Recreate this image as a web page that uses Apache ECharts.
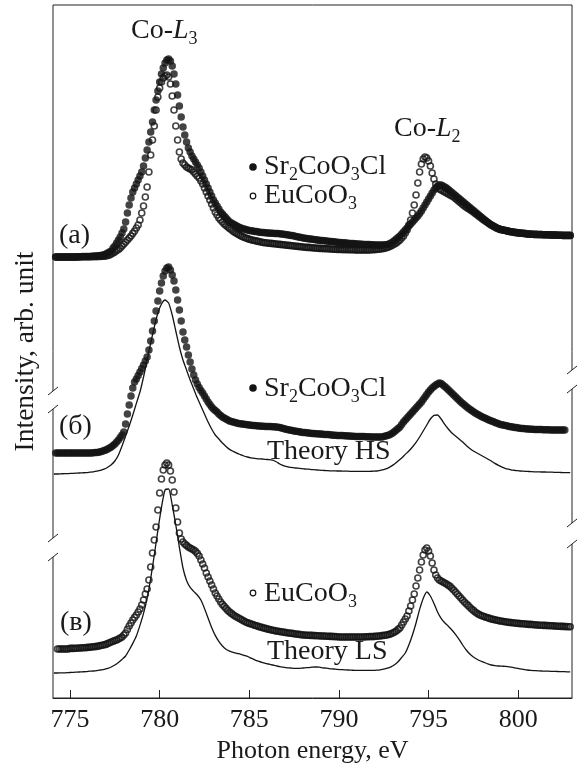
<!DOCTYPE html>
<html>
<head>
<meta charset="utf-8">
<script src="https://cdn.jsdelivr.net/npm/echarts@6/dist/echarts.min.js"></script>
<style>
html,body{margin:0;padding:0;background:#fff}
#chart{width:578px;height:766px}
</style>
</head>
<body>
<div id="chart"></div>
<script>
// Photon energies (eV) of the measured XAS points
const energyExp = [
774.2,774.3,774.4,774.5,774.6,774.7,774.8,774.9,
775.0,775.1,775.2,775.3,775.4,775.5,775.6,775.7,775.8,775.9,
776.0,776.1,776.2,776.3,776.4,776.5,776.6,776.7,776.8,776.9,
777.0,777.1,777.2,777.3,777.4,777.5,777.6,777.7,777.8,777.9,
778.0,778.1,778.2,778.3,778.4,778.5,778.6,778.7,778.8,778.9,
779.0,779.1,779.2,779.3,779.4,779.5,779.6,779.7,779.8,779.9,
780.0,780.1,780.2,780.3,780.4,780.5,780.6,780.7,780.8,780.9,
781.0,781.1,781.2,781.3,781.4,781.5,781.6,781.7,781.8,781.9,
782.0,782.1,782.2,782.3,782.4,782.5,782.6,782.7,782.8,782.9,
783.0,783.1,783.2,783.3,783.4,783.5,783.6,783.7,783.8,783.9,
784.0,784.1,784.2,784.3,784.4,784.5,784.6,784.7,784.8,784.9,
785.0,785.1,785.2,785.3,785.4,785.5,785.6,785.7,785.8,785.9,
786.0,786.1,786.2,786.3,786.4,786.5,786.6,786.7,786.8,786.9,
787.0,787.1,787.2,787.3,787.4,787.5,787.6,787.7,787.8,787.9,
788.0,788.1,788.2,788.3,788.4,788.5,788.6,788.7,788.8,788.9,
789.0,789.1,789.2,789.3,789.4,789.5,789.6,789.7,789.8,789.9,
790.0,790.1,790.2,790.3,790.4,790.5,790.6,790.7,790.8,790.9,
791.0,791.1,791.2,791.3,791.4,791.5,791.6,791.7,791.8,791.9,
792.0,792.1,792.2,792.3,792.4,792.5,792.6,792.7,792.8,792.9,
793.0,793.1,793.2,793.3,793.4,793.5,793.6,793.7,793.8,793.9,
794.0,794.1,794.2,794.3,794.4,794.5,794.6,794.7,794.8,794.9,
795.0,795.1,795.2,795.3,795.4,795.5,795.6,795.7,795.8,795.9,
796.0,796.1,796.2,796.3,796.4,796.5,796.6,796.7,796.8,796.9,
797.0,797.1,797.2,797.3,797.4,797.5,797.6,797.7,797.8,797.9,
798.0,798.1,798.2,798.3,798.4,798.5,798.6,798.7,798.8,798.9,
799.0,799.1,799.2,799.3,799.4,799.5,799.6,799.7,799.8,799.9,
800.0,800.1,800.2,800.3,800.4,800.5,800.6,800.7,800.8,800.9,
801.0,801.1,801.2,801.3,801.4,801.5,801.6,801.7,801.8,801.9,
802.0,802.1,802.2,802.3,802.4,802.5,802.6,802.7,802.8,802.9
];

// Panel (a): Sr2CoO3Cl, intensity (arb. units)
const srCoA = [
1.5,1.5,1.5,1.5,1.5,1.5,1.5,1.5,
1.5,1.5,1.5,1.5,1.5,1.6,1.6,1.7,1.7,1.7,
1.8,1.8,1.9,1.9,2.0,2.0,2.1,2.3,2.4,2.6,
3,3.5,4,4.5,6,7,8.5,10,11.5,13.5,
15.5,19,23.5,27.5,31,34,36,38,40,42,
44,47,51,55,59,64,69,75,80,84.5,
89,93,96,98.5,100,100.5,99.5,97,93,88,
82.5,77,71.5,66.5,62.5,59,56,54,52,50.5,
49,47.5,46,44,42,40,38,36,34,32,
30,28.5,27,25.5,24,23,22,21,20,19,
18.5,18,17.5,17,16.5,16.1,15.8,15.5,15.3,15,
14.8,14.6,14.5,14.3,14.2,14,13.9,13.8,13.7,13.6,
13.5,13.5,13.4,13.4,13.3,13.3,13.2,13.1,13,12.9,
12.8,12.6,12.5,12.3,12.2,12,11.8,11.6,11.4,11.2,
11,10.9,10.8,10.6,10.5,10.4,10.3,10.1,10,9.9,
9.8,9.7,9.6,9.5,9.4,9.3,9.2,9.1,9,8.9,
8.8,8.7,8.6,8.6,8.5,8.4,8.3,8.3,8.2,8.1,
8,8,7.9,7.9,7.8,7.8,7.7,7.7,7.6,7.6,
7.5,7.5,7.5,7.5,7.5,7.5,7.6,7.8,8,8.5,
9,9.8,10.5,11.3,12,13,14,15,16,17,
18,19,20,21,22,23.3,24.5,26,27.5,29,
30.5,32,33.5,35,36,37,37.5,37.5,37,36.5,
36,35.3,34.5,33.8,33,32.3,31.5,30.8,30,29.3,
28.5,27.8,27,26.3,25.5,24.8,24,23.3,22.5,21.8,
21,20.3,19.5,18.8,18,17.5,17,16.5,16,15.6,
15.3,15.1,14.9,14.7,14.5,14.3,14.1,14,13.8,13.7,
13.5,13.5,13.4,13.3,13.2,13,13,12.9,12.9,12.8,
12.8,12.7,12.7,12.7,12.6,12.6,12.6,12.6,12.5,12.5,
12.5,12.5,12.4,12.4,12.4,12.3,12.3,12.3,12.3,12.3
];

// Panel (a): EuCoO3, intensity (arb. units)
const euCoA = [
1.5,1.5,1.5,1.5,1.5,1.5,1.5,1.5,
1.5,1.5,1.5,1.5,1.5,1.6,1.6,1.6,1.6,1.6,
1.6,1.6,1.6,1.7,1.7,1.7,1.8,1.8,1.9,1.9,
2,2.3,2.5,3,3.5,4,4.8,5.3,6,7,
8,9,10,11,12,13.3,14.5,16,17.5,20,
23.5,27,31.5,36.5,44,52.5,60,67,75,81.5,
86,89,91,92,92.5,91.5,88,82,75,67,
60,54,50.5,48.5,47.5,46.5,46,45.5,45,44,
43,42,41,39.5,38,36,34,32,30,28,
26,24,22.5,21,20,19,18,17.3,16.5,15.8,
15.1,14.4,13.8,13.2,12.7,12.2,11.8,11.4,11,10.7,
10.4,10.1,9.9,9.7,9.5,9.3,9.1,8.9,8.7,8.6,
8.5,8.4,8.3,8.2,8.1,8,7.9,7.8,7.7,7.6,
7.5,7.4,7.3,7.2,7.1,7,6.9,6.8,6.7,6.6,
6.5,6.4,6.3,6.3,6.2,6.1,6,6,5.9,5.8,
5.8,5.7,5.7,5.6,5.6,5.5,5.5,5.4,5.4,5.3,
5.3,5.3,5.2,5.2,5.2,5.1,5.1,5.1,5.1,5,
5,5,5,5,5,5,5,5,5.1,5.1,
5.2,5.3,5.4,5.5,5.6,5.8,6,6.3,6.6,7,
7.5,8,8.5,9.3,10,11,12,13.5,15,17.5,
20,23.5,27.5,32.5,38.5,44,48,50.5,51.5,51,
49.5,47,43.5,40.5,38,36.5,35.5,35,34.5,34,
33.5,33,32.5,32,31.5,30.8,30,29.3,28.5,27.8,
27,26.4,25.8,25.2,24.6,24,23.3,22.6,21.9,21.2,
20.5,19.9,19.3,18.7,18.1,17.5,17,16.5,16,15.6,
15.3,15.1,14.9,14.7,14.5,14.3,14.1,14,13.8,13.7,
13.5,13.5,13.4,13.3,13.2,13,13,12.9,12.9,12.8,
12.8,12.7,12.7,12.7,12.6,12.6,12.6,12.6,12.5,12.5,
12.5,12.5,12.4,12.4,12.4,12.3,12.3,12.3,12.3,12.3
];

// Panel (б): Sr2CoO3Cl, intensity (arb. units)
const srCoB = [
13.5,13.5,13.5,13.5,13.5,13.5,13.5,13.5,
13.5,13.5,13.5,13.5,13.5,13.5,13.5,13.5,13.5,13.5,
13.5,13.5,13.5,13.6,13.7,13.8,13.9,14.1,14.4,14.7,
15,15.5,16,16.5,17.3,18,19,20,21.3,22.5,
24,28,33,37.5,42,46,49,50.5,52.3,54,
55.8,57.5,59.5,61.5,65,69.5,74.5,79.5,84.5,89.5,
94.5,98.5,102,104.5,106,106.5,105,102.5,99.5,95,
90,85,79.5,74,70,66.5,62.5,59,55.5,52.5,
50,48,46.3,44.8,43.5,42,40.5,39,37.8,36.5,
35.5,34.8,34,33,32.3,31.5,31,30.5,30,29.5,
29.3,29,28.8,28.5,28.3,28.1,28,27.9,27.8,27.6,
27.5,27.4,27.3,27.2,27.1,27,27,26.9,26.9,26.8,
26.8,26.7,26.7,26.6,26.6,26.5,26.4,26.2,26,25.8,
25.5,25.3,25.1,24.9,24.7,24.5,24.4,24.2,24.1,23.9,
23.8,23.7,23.6,23.5,23.4,23.3,23.2,23.1,23.1,23,
23,22.9,22.8,22.7,22.7,22.6,22.5,22.4,22.4,22.3,
22.3,22.2,22.2,22.1,22.1,22,22,21.9,21.9,21.8,
21.8,21.8,21.7,21.7,21.7,21.6,21.6,21.6,21.5,21.5,
21.5,21.5,21.5,21.5,21.5,21.8,22,22.3,22.5,23,
23.5,24.3,25,25.8,26.5,27.8,29,30,31,32,
33,34,35,36,37,38,39,40.3,41.5,42.8,
44,45,46,46.8,47.5,48,48.5,48.3,47.5,46.8,
46,45.1,44.3,43.4,42.5,41.6,40.8,39.9,39,38.3,
37.5,36.8,36,35.4,34.8,34.1,33.5,33,32.5,32,
31.5,31.1,30.7,30.3,29.9,29.5,29.2,28.8,28.5,28.1,
27.8,27.6,27.4,27.2,27,26.8,26.6,26.5,26.3,26.2,
26,25.9,25.8,25.7,25.6,25.5,25.5,25.4,25.4,25.3,
25.3,25.2,25.2,25.2,25.1,25.1,25.1,25.1,25,25,
25,25,25,25,25,25,25,null,null,null
];

// Panel (в): EuCoO3, intensity (arb. units)
const euCoV = [
null,15.5,15.5,15.5,15.5,15.5,15.5,15.5,
15.8,15.8,15.8,15.9,15.9,16,16,16.1,16.1,16.2,
16.3,16.4,16.5,16.6,16.7,16.8,17,17.2,17.4,17.6,
17.8,18.2,18.6,19,19.4,19.7,20,20.5,21,21.5,
22.5,23.5,25.3,27,28.5,30,31.3,32.5,34,35.5,
37.5,40,43,45.5,50,56.5,63.5,70,76.5,85,
93.5,100.5,105,107.5,108.5,107.5,104.5,100,94,86,
79,73.5,70.5,69,68,67.3,66.5,66,65.5,65,
64.3,63.3,62,60,58,56,53.5,51.5,49.5,47.5,
45.5,43.5,42,40.5,39,37.8,36.8,35.8,34.8,34,
33.3,32.6,32,31.5,31,30.5,30,29.5,29,28.6,
28.3,28,27.7,27.4,27.1,26.8,26.5,26.3,26,25.8,
25.5,25.3,25.1,24.9,24.7,24.5,24.4,24.2,24.1,23.9,
23.8,23.6,23.5,23.4,23.3,23.1,23,22.9,22.8,22.6,
22.5,22.5,22.4,22.4,22.3,22.3,22.2,22.2,22.1,22.1,
22,22,22,21.9,21.9,21.8,21.8,21.7,21.7,21.6,
21.5,21.5,21.5,21.5,21.5,21.5,21.5,21.5,21.5,21.5,
21.5,21.5,21.5,21.5,21.5,21.6,21.6,21.7,21.7,21.7,
21.8,21.9,22,22,22.2,22.3,22.4,22.6,22.8,23.1,
23.5,24,24.5,25.3,26,27.5,29,30.5,32,34.5,
37,40,43,47,51,55,59,62.5,65,66,
64.5,62,58.5,55,52.5,51,50,49.5,49,48.5,
48,47.4,46.8,45.9,45,44,43,42,41,40,
39,38.1,37.3,36.4,35.5,34.8,34,33.4,32.8,32.4,
32,31.7,31.4,31.1,30.8,30.5,30.3,30.1,29.9,29.7,
29.5,29.4,29.2,29.1,28.9,28.8,28.7,28.6,28.5,28.4,
28.3,28.2,28.1,28.1,28,27.9,27.8,27.8,27.7,27.6,
27.5,27.5,27.4,27.4,27.3,27.3,27.2,27.2,27.1,27.1,
27,27,26.9,26.9,26.8,26.8,26.7,26.7,26.6,26.6
];

// Energies (eV) of the calculated spectra
const energyTheory = [
774.1,774.3,774.5,774.7,774.9, 775.1,775.3,775.5,775.7,775.9,
776.1,776.3,776.5,776.7,776.9, 777.1,777.3,777.5,777.7,777.9,
778.1,778.3,778.5,778.7,778.9, 779.1,779.3,779.5,779.7,779.9,
780.1,780.3,780.5,780.7,780.9, 781.1,781.3,781.5,781.7,781.9,
782.1,782.3,782.5,782.7,782.9, 783.1,783.3,783.5,783.7,783.9,
784.1,784.3,784.5,784.7,784.9, 785.1,785.3,785.5,785.7,785.9,
786.1,786.3,786.5,786.7,786.9, 787.1,787.3,787.5,787.7,787.9,
788.1,788.3,788.5,788.7,788.9, 789.1,789.3,789.5,789.7,789.9,
790.1,790.3,790.5,790.7,790.9, 791.1,791.3,791.5,791.7,791.9,
792.1,792.3,792.5,792.7,792.9, 793.1,793.3,793.5,793.7,793.9,
794.1,794.3,794.5,794.7,794.9, 795.1,795.3,795.5,795.7,795.9,
796.1,796.3,796.5,796.7,796.9, 797.1,797.3,797.5,797.7,797.9,
798.1,798.3,798.5,798.7,798.9, 799.1,799.3,799.5,799.7,799.9,
800.1,800.3,800.5,800.7,800.9, 801.1,801.3,801.5,801.7,801.9,
802.1,802.3,802.5,802.7,802.9
];

// Calculated high-spin spectrum, panel (б)
const theoryHS = [
3,3,3.1,3.2,3.2, 3.3,3.4,3.5,3.6,3.7,
3.9,4.1,4.4,4.8,5.4, 6.4,7.6,9.5,12.5,17,
22,27,32.5,38.3,44, 51.5,60,68.5,76.5,83.5,
88,90,88.5,82.5,74.5, 66.5,60,55,50,45.5,
41,37,33,29,25.5, 22.5,20.5,18.5,16.8,15.3,
14.3,13.4,12.7,12,11.5, 11.1,10.8,10.6,10.5,10.3,
10.2,9.9,9.1,8,7.2, 6.7,6.3,6.1,5.9,5.7,
5.5,5.4,5.2,5.1,4.9, 4.8,4.7,4.6,4.6,4.5,
4.5,4.4,4.4,4.3,4.3, 4.3,4.3,4.3,4.3,4.4,
4.5,4.8,5.2,5.8,6.8, 8,9.5,11,12.8,14.5,
16.5,18.8,21.5,24.5,27.5, 30.5,32.3,32.5,30.5,27.8,
25.5,23.5,22,20.5,19, 17.3,15.8,14.5,13.5,12.5,
11.5,10.5,9.5,8.3,7.3, 6.4,5.7,5.3,4.9,4.7,
4.5,4.4,4.3,4.2,4.1, 4.1,4.0,4.0,3.9,3.9,
3.8,3.8,3.7,3.7,3.7
];

// Calculated low-spin spectrum, panel (в)
const theoryLS = [
3.5,3.5,3.6,3.6,3.7, 3.8,3.9,4,4.1,4.2,
4.4,4.5,4.7,5,5.3, 5.8,6.5,7.5,8.8,10.3,
12,15,18.3,22,27.3, 33.3,40.8,50.8,62.5,74.8,
86.3,95,95.5,87.5,77.5, 66.3,56,49.8,46.3,44.3,
42.5,40,35.8,31,26.3, 22.3,19.3,17,15.4,14.4,
13.8,13.3,12.9,12.3,11.8, 10.9,10.1,9.4,8.8,8.3,
7.9,7.5,7.1,6.7,6.4, 6.1,6,5.8,5.8,5.9,
6.1,6.2,6.4,6.5,6.4, 6.1,5.9,5.6,5.5,5.3,
5.2,5.1,5,4.9,4.8, 4.8,4.8,4.8,4.8,4.8,
4.9,5.1,5.4,5.9,6.6, 7.6,9.1,11.3,13.5,17.5,
22.5,28.5,35.3,40.8,44, 42,38.3,34,30.8,28.6,
26.9,25,22.8,20.3,17.5, 15,13,11.5,10.4,9.5,
8.8,8.1,7.5,7.2,7, 6.9,6.8,6.6,6.3,5.9,
5.6,5.3,5,4.8,4.7, 4.6,4.5,4.4,4.4,4.3,
4.3,4.2,4.2,4.1,4.1
];

// Bottom axis tick values (eV)
const xTicks = [775, 780, 785, 790, 795, 800];

const FONT = 'Liberation Serif, Times New Roman, serif';
const INK = '#141414';
const TEXT = '#1a1a1a';
const X_MIN = 774.05, X_MAX = 803;

function pairs(xs, ys) {
  const out = [];
  for (let i = 0; i < xs.length; i++) {
    if (ys[i] !== null && ys[i] !== undefined) out.push([xs[i], ys[i]]);
  }
  return out;
}

const chart = echarts.init(document.getElementById('chart'), null, {renderer: 'canvas', devicePixelRatio: 1});

// frame grid + three stacked panels sharing the energy scale
const gridBase = {left: 53, right: 6, outerBoundsMode: 'none', containLabel: false};
const grids = [
  Object.assign({top: 5, bottom: 68, show: true, borderColor: '#222', borderWidth: 1, backgroundColor: 'transparent'}, gridBase),
  Object.assign({top: 20, height: 280, show: false}, gridBase),   // (a)
  Object.assign({top: 240, height: 280, show: false}, gridBase),  // (б)
  Object.assign({top: 440, height: 280, show: false}, gridBase)   // (в)
];

const hiddenX = i => ({type: 'value', gridIndex: i, min: X_MIN, max: X_MAX, show: false});
const hiddenY = i => ({type: 'value', gridIndex: i, min: -20, max: 120, show: false});

const xAxes = [
  {
    type: 'value', gridIndex: 0, min: X_MIN, max: X_MAX,
    axisLine: {show: true, lineStyle: {color: '#222', width: 1}},
    axisTick: {show: true, inside: true, length: 8, customValues: xTicks, lineStyle: {color: '#222', width: 1}},
    axisLabel: {show: true, customValues: xTicks, margin: 9, fontFamily: FONT, fontSize: 26, color: TEXT},
    splitLine: {show: false},
    name: 'Photon energy, eV', nameLocation: 'middle', nameGap: 36,
    nameTextStyle: {fontFamily: FONT, fontSize: 26, color: TEXT}
  },
  hiddenX(1), hiddenX(2), hiddenX(3)
];

const yAxes = [
  {
    type: 'value', gridIndex: 0, min: 0, max: 1,
    axisLine: {show: false}, axisTick: {show: false}, axisLabel: {show: false}, splitLine: {show: false},
    name: 'Intensity, arb. unit', nameLocation: 'middle', nameRotate: 90, nameGap: 13,
    nameTextStyle: {fontFamily: FONT, fontSize: 27.5, color: TEXT}
  },
  hiddenY(1), hiddenY(2), hiddenY(3)
];

const filledDots = {symbol: 'circle', symbolSize: 7.5, itemStyle: {color: INK}};
const openDots = {symbol: 'circle', symbolSize: 6, itemStyle: {color: 'rgba(0,0,0,0)', borderColor: INK, borderWidth: 1.6}};

function scatter(name, idx, ys, style) {
  return Object.assign({
    type: 'scatter', name, xAxisIndex: idx, yAxisIndex: idx,
    data: pairs(energyExp, ys), clip: false, silent: true, animation: false
  }, style);
}
function theory(name, idx, ys) {
  return {
    type: 'line', name, xAxisIndex: idx, yAxisIndex: idx,
    data: pairs(energyTheory, ys), showSymbol: false, smooth: 0.2, clip: false,
    lineStyle: {color: INK, width: 1.3}, silent: true, animation: false
  };
}

const series = [
  scatter('Sr2CoO3Cl (a)', 1, srCoA, filledDots),
  scatter('EuCoO3 (a)', 1, euCoA, openDots),
  scatter('Sr2CoO3Cl (б)', 2, srCoB, filledDots),
  theory('Theory HS', 2, theoryHS),
  scatter('EuCoO3 (в)', 3, euCoV, openDots),
  theory('Theory LS', 3, theoryLS)
];

// rich-text styles for chemical formulas and edge labels
const rich = {
  n: {fontFamily: FONT, fontSize: 28, lineHeight: 34, fill: TEXT},
  i: {fontFamily: FONT, fontSize: 28, lineHeight: 34, fontStyle: 'italic', fill: TEXT},
  s: {fontFamily: FONT, fontSize: 18, lineHeight: 19, verticalAlign: 'bottom', fill: TEXT}
};
function label(x, y, text) {
  return {type: 'text', x, y, z: 100, silent: true,
    style: {text, rich, align: 'left', verticalAlign: 'middle', fontFamily: FONT, fontSize: 28, fill: TEXT}};
}
function dot(cx, cy) {
  return {type: 'circle', z: 100, silent: true, shape: {cx, cy, r: 3.8}, style: {fill: INK}};
}
function ring(cx, cy) {
  return {type: 'circle', z: 100, silent: true, shape: {cx, cy, r: 2.8}, style: {fill: '#fff', stroke: INK, lineWidth: 1.2}};
}
// axis break: a white gap in the frame line between two short slashes
function axisBreak(x, y1, y2) {
  return [
    {type: 'rect', z: 99, silent: true, shape: {x: x - 2, y: y1, width: 4, height: y2 - y1}, style: {fill: '#fff'}},
    {type: 'line', z: 100, silent: true, shape: {x1: x - 5, y1: y1 + 4, x2: x + 5, y2: y1 - 4}, style: {stroke: '#222', lineWidth: 1}},
    {type: 'line', z: 100, silent: true, shape: {x1: x - 5, y1: y2 + 4, x2: x + 5, y2: y2 - 4}, style: {stroke: '#222', lineWidth: 1}}
  ];
}

const graphic = [
  label(131, 31, '{n|Co-}{i|L}{s|3}'),
  label(394, 129, '{n|Co-}{i|L}{s|2}'),
  dot(253, 167), label(264, 167, '{n|Sr}{s|2}{n|CoO}{s|3}{n|Cl}'),
  ring(253, 196), label(264, 196, '{n|EuCoO}{s|3}'),
  label(59, 236, '{n|(a)}'),
  dot(253, 388), label(264, 389, '{n|Sr}{s|2}{n|CoO}{s|3}{n|Cl}'),
  label(59, 427, '{n|(б)}'),
  label(267, 452, '{n|Theory HS}'),
  ring(253, 593), label(264, 594, '{n|EuCoO}{s|3}'),
  label(60, 623, '{n|(в)}'),
  label(267, 652, '{n|Theory LS}')
].concat(
  axisBreak(53, 391, 409),
  axisBreak(53, 538, 557),
  axisBreak(572, 370, 389),
  axisBreak(572, 523, 544)
);

chart.setOption({
  animation: false,
  backgroundColor: '#fff',
  grid: grids,
  xAxis: xAxes,
  yAxis: yAxes,
  series,
  graphic
});
</script>
</body>
</html>
